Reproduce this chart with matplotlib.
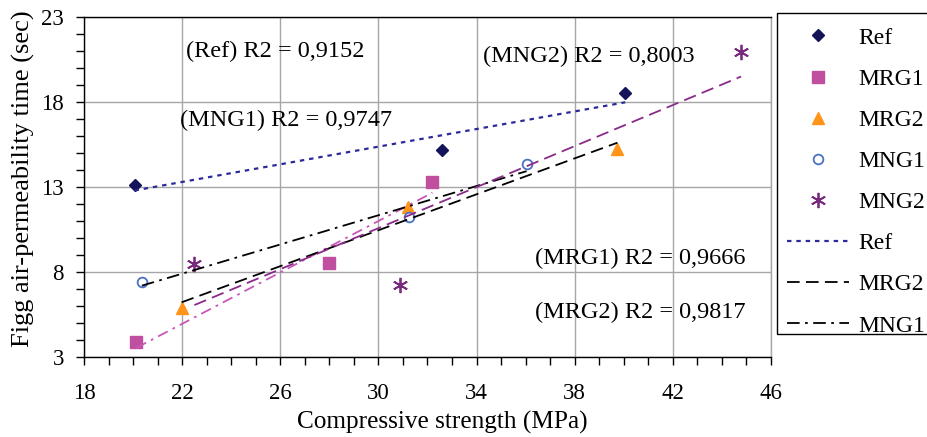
import matplotlib.pyplot as plt
import numpy as np
from matplotlib.patches import Rectangle
from matplotlib.ticker import MultipleLocator

plt.rcParams['font.family'] = ['Liberation Serif', 'DejaVu Serif']

# Measured points (compressive strength MPa, Figg time sec)
ref_x = [20.06, 32.6, 40.06]
ref_y = [13.12, 15.18, 18.53]
mrg1_x = [20.14, 28.0, 32.2]
mrg1_y = [3.88, 8.53, 13.29]
mrg2_x = [21.98, 31.2, 39.74]
mrg2_y = [5.88, 11.8, 15.24]
mng1_x = [20.36, 31.25, 36.04]
mng1_y = [7.39, 11.25, 14.37]
mng2_x = [22.5, 30.9, 44.78]
mng2_y = [8.47, 7.25, 20.96]

x_ticks = [18, 22, 26, 30, 34, 38, 42, 46]
y_ticks = [3, 8, 13, 18, 23]

r2_labels = ['(Ref) R2 = 0,9152', '(MNG1) R2 = 0,9747', '(MNG2) R2 = 0,8003',
             '(MRG1) R2 = 0,9666', '(MRG2) R2 = 0,9817']
r2_pos = [(22.15, 20.96), (21.9, 16.94), (34.25, 20.66), (36.4, 8.82), (36.4, 5.6)]


def trend(ax, x, y, **kw):
    # linear trendline over the range of the series (like Excel)
    k, b = np.polyfit(x, y, 1)
    xs = np.array([min(x), max(x)])
    return ax.plot(xs, k * xs + b, **kw)[0]


W, H = 927, 437
fig = plt.figure(figsize=(W / 100, H / 100), dpi=100)
ax = fig.add_axes([0.0906, 0.183, 0.7411, 0.778])

h_ref, = ax.plot(ref_x, ref_y, 'D', color='#14145a', markersize=6.5, linestyle='none')
h_mrg1, = ax.plot(mrg1_x, mrg1_y, 's', color='#c04fa0', markersize=8, linestyle='none')
h_mrg2, = ax.plot(mrg2_x, mrg2_y, '^', color='#ff9419', markersize=9, linestyle='none')
h_mng1, = ax.plot(mng1_x, mng1_y, 'o', mfc='white', mec='#4a72c0', mew=1.3, markersize=7,
                  linestyle='none')
h_mng2, = ax.plot(mng2_x, mng2_y, marker=(6, 2, 0), color='#7a2a7e', mew=1.3, markersize=11,
                  linestyle='none')

t_ref = trend(ax, ref_x, ref_y, color='#2a2a9a', lw=1.6, dashes=(2, 2.2))
trend(ax, mrg1_x, mrg1_y, color='#c857b8', lw=1.3, dashes=(6, 3, 1.5, 3))
t_mrg2 = trend(ax, mrg2_x, mrg2_y, color='black', lw=1.3, dashes=(7, 3.5))
t_mng1 = trend(ax, mng1_x, mng1_y, color='black', lw=1.3, dashes=(7, 3, 1.5, 3))
trend(ax, mng2_x, mng2_y, color='#8a2a8a', lw=1.3, dashes=(7, 3.5))

for txt, (tx, ty) in zip(r2_labels, r2_pos):
    ax.text(tx, ty, txt, fontsize=17.5, ha='left', va='center')

ax.set_xlim(18, 46)
ax.set_ylim(3, 23)
ax.set_xticks(x_ticks)
ax.set_yticks(y_ticks)
ax.xaxis.set_minor_locator(MultipleLocator(1))
ax.yaxis.set_minor_locator(MultipleLocator(1))
ax.tick_params(which='both', direction='out', length=5.5, width=1, labelsize=16.5)
ax.tick_params(axis='x', which='major', pad=13)
ax.tick_params(axis='y', which='major', pad=9)
ax.grid(True, which='major', color='#a6a6a6', lw=1)
ax.set_axisbelow(True)
for s in ax.spines.values():
    s.set_linewidth(1)
ax.spines['right'].set_color('#a6a6a6')

ax.set_xlabel('Compressive strength (MPa)', fontsize=18.2)
ax.set_ylabel('Figg air-permeability time (sec)', fontsize=19)
ax.xaxis.set_label_coords(0.522, -0.159)
ax.yaxis.set_label_coords(-0.071, 0.525)

handles = [h_ref, h_mrg1, h_mrg2, h_mng1, h_mng2, t_ref, t_mrg2, t_mng1]
labels = ['Ref', 'MRG1', 'MRG2', 'MNG1', 'MNG2', 'Ref', 'MRG2', 'MNG1']
fig.legend(handles, labels, loc='upper left', bbox_to_anchor=(773 / W, 1 - 13 / H),
           fontsize=17, frameon=False, handlelength=2.6, handletextpad=0.4,
           labelspacing=0.83, borderpad=0.6, borderaxespad=0, numpoints=1)
# legend box, cut by the right edge as in the original
fig.patches.append(Rectangle((777 / W, 1 - 334 / H), 160 / W, 321 / H, transform=fig.transFigure,
                             fill=False, edgecolor='black', lw=1))

fig.savefig('out.png', dpi=100)
